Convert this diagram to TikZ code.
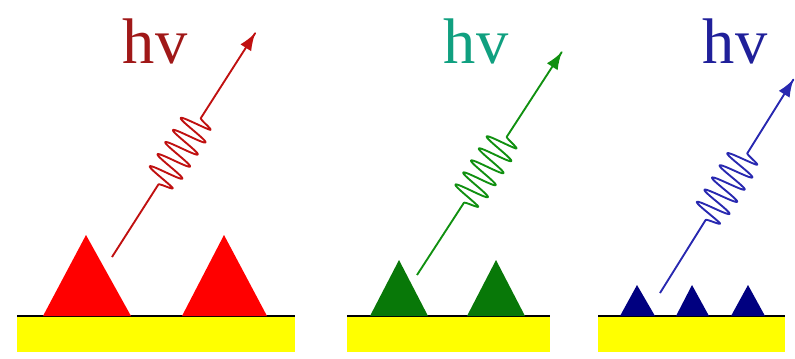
\documentclass[tikz,border=0pt]{standalone}
\usepackage{fontspec}
\setmainfont{Liberation Serif}
\usetikzlibrary{arrows.meta}
\definecolor{hvred}{HTML}{A01818}
\definecolor{hvgreen}{HTML}{10A080}
\definecolor{hvblue}{HTML}{20209A}
\definecolor{wavered}{HTML}{C01010}
\definecolor{wavegreen}{HTML}{109010}
\definecolor{waveblue}{HTML}{2828B0}
\definecolor{dotred}{HTML}{FF0000}
\definecolor{dotgreen}{HTML}{087808}
\definecolor{dotblue}{HTML}{000080}
\definecolor{gold}{HTML}{FFFF00}
% photon: straight line, a wave packet, straight line again, arrow tip
\newcommand{\drawphoton}[4]{% #1 start, #2 angle, #3 length, #4 colour
  \begin{scope}[shift={(#1)}, rotate=#2]
    \draw[photon, draw=#4] plot[domain=0:#3, samples=800] (\x, {wave(\x)});
  \end{scope}}
\begin{document}
\begin{tikzpicture}[x=0.03cm, y=-0.03cm,
  declare function={wave(\t)=(\t>86)*(\t<165)*17*min(1,(\t-86)/5,(165-\t)/5)*sin(25.1*(\t-86));},
  substrate/.style={fill=gold, draw=none},
  surface/.style={line width=1.6pt, black},
  hvlabel/.style={font=\fontsize{55}{55}\selectfont, anchor=base, inner sep=0pt},
  photon/.style={line width=1.6pt, line join=round, -{Latex[length=15pt,width=11pt]}}]
\useasboundingbox (0,0) rectangle (795,358);

% substrates with their surface lines
\fill[substrate] (17,316) rectangle (295,352);
\fill[substrate] (347,316) rectangle (550,352);
\fill[substrate] (598,316) rectangle (785,352);
\draw[surface] (17,316) -- (295,316);
\draw[surface] (347,316) -- (550,316);
\draw[surface] (598,316) -- (785,316);

% large particles
\fill[dotred] (43,316) -- (86,235) -- (131,316) -- cycle;
\fill[dotred] (182,316) -- (224,235) -- (267,316) -- cycle;
% medium particles
\fill[dotgreen] (370,316) -- (399,260) -- (428,316) -- cycle;
\fill[dotgreen] (467,316) -- (496,260) -- (525,316) -- cycle;
% small particles
\fill[dotblue] (620,316) -- (637,285) -- (655,316) -- cycle;
\fill[dotblue] (676,316) -- (692,285) -- (709,316) -- cycle;
\fill[dotblue] (731,316) -- (748,285) -- (765,316) -- cycle;

% emitted light
\coordinate (s1) at (112,257);
\coordinate (s2) at (417,275);
\coordinate (s3) at (660,293);
\drawphoton{s1}{57.4}{266}{wavered}
\drawphoton{s2}{57.0}{266}{wavegreen}
\drawphoton{s3}{58.0}{252}{waveblue}

% photon energy labels
\node[hvlabel, text=hvred] (hv1) at (155,63) {hv};
\node[hvlabel, text=hvgreen] (hv2) at (476,63) {hv};
\node[hvlabel, text=hvblue] (hv3) at (735,63) {hv};
\end{tikzpicture}
\end{document}
